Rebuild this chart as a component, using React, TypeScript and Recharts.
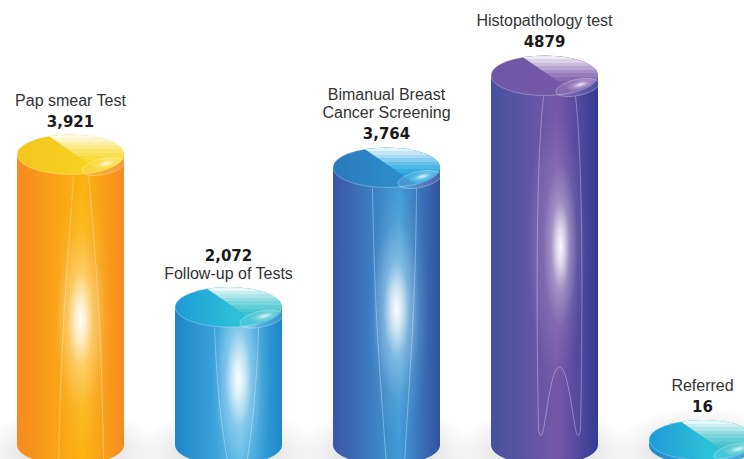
import React from 'react'
import { BarChart, Bar, XAxis, YAxis } from 'recharts'

const categories = ['Pap smear Test', 'Follow-up of Tests', 'Bimanual Breast Cancer Screening', 'Histopathology test', 'Referred']
const values = [3921, 2072, 3764, 4879, 16]
const valueLabels = ['3,921', '2,072', '3,764', '4879', '16']
const nameLines = [['Pap smear Test'], ['Follow-up of Tests'], ['Bimanual Breast', 'Cancer Screening'], ['Histopathology test'], ['Referred']]
const valueOnTop = [false, true, false, false, false]

const bodyEdge = ['#F68A20', '#1E86C8', '#3A55A5', '#46509F', '#1E86C8']
const bodyMid = ['#FBB40F', '#4FB4E5', '#3E9BD6', '#7558A8', '#4FB4E5']
const bodyRight = ['#F68A20', '#1C88C9', '#34509F', '#343A92', '#1C88C9']
const topLeft = ['#F4C51F', '#1E9AD8', '#2C79BC', '#6D57A5', '#1E9AD8']
const topMid = ['#F6D020', '#2CC0D8', '#2E8CCB', '#7459A8', '#2CC0D8']
const topRight = ['#F9D92A', '#3FC2CC', '#27A6DF', '#7E60AE', '#3FC2CC']
const lensKind = ['flare', 'taper', 'taper', 'arch', 'none']

const tableData = categories.map((name, i) => ({ name, value: values[i] }))

const BASE_LIFT = 33
const RY = 20
const bandOpacity = [0.88, 0.72, 0.58, 0.44, 0.3, 0.18, 0.08, 0]

function lensPath(kind: string, cx: number, top: number, base: number) {
  const t = top + 21
  const b = base + 20
  const mid = (t + b) / 2
  if (kind === 'flare') {
    return `M${cx + 3},${t} C${cx - 3},${mid - 50} ${cx - 9},${mid} ${cx - 12},${b} L${cx + 33},${b} C${cx + 31},${mid} ${cx + 26},${mid - 50} ${cx + 18},${t}`
  }
  if (kind === 'taper') {
    return `M${cx - 14},${t} C${cx - 12},${mid - 20} ${cx - 8},${mid + 30} ${cx},${b} L${cx + 18},${b} C${cx + 24},${mid + 30} ${cx + 29},${mid - 20} ${cx + 30},${t}`
  }
  return `M${cx - 1},${t} C${cx - 9},${t + 70} ${cx - 8},${t + 230} ${cx - 6},${base - 15} C${cx - 4},${base - 6} ${cx - 2},${base - 8} ${cx},${base - 22} C${cx + 4},${base - 45} ${cx + 8},${base - 78} ${cx + 15},${base - 78} C${cx + 22},${base - 78} ${cx + 26},${base - 45} ${cx + 30},${base - 22} C${cx + 32},${base - 8} ${cx + 34},${base - 6} ${cx + 36},${base - 15} C${cx + 38},${t + 230} ${cx + 39},${t + 70} ${cx + 31},${t}`
}

function Cylinder(props: any) {
  const { x, y, width, height, index: i } = props
  const rx = width / 2
  const cx = x + rx
  const top = y
  const base = y + height - BASE_LIFT
  const mid = (top + base) / 2 + (i === 0 ? 20 : i === 3 ? -14 : 3)
  const kind = lensKind[i]
  const bodyPath = `M${x},${top} L${x},${base} A${rx},${RY} 0 0 0 ${x + width},${base} L${x + width},${top} Z`
  const lens = lensPath(kind, cx, top, base)
  const lines = nameLines[i].map((t) => ({ t, bold: false }))
  const stack = valueOnTop[i]
    ? [{ t: valueLabels[i], bold: true }, ...lines]
    : [...lines, { t: valueLabels[i], bold: true }]

  // walk up from the cylinder so each line sits on the one below it
  let lineY = top - 28
  const placed = stack
    .map((line, k) => ({ line, k }))
    .reverse()
    .map(({ line, k }) => {
      const at = lineY
      const above = stack[k - 1]
      lineY -= above && (above.bold || line.bold) ? (valueOnTop[i] ? 18 : 21) : 18
      return { line, at }
    })

  return (
    <g>
      <defs>
        <linearGradient id={`body-${i}`} x1="0" x2="1" y1="0" y2="0">
          <stop offset="0" stopColor={bodyEdge[i]} />
          <stop offset="0.62" stopColor={bodyMid[i]} />
          <stop offset="1" stopColor={bodyRight[i]} />
        </linearGradient>
        <linearGradient id={`top-${i}`} x1="0" x2="1" y1="0" y2="0">
          <stop offset="0" stopColor={topLeft[i]} />
          <stop offset="0.55" stopColor={topMid[i]} />
        </linearGradient>
        <linearGradient id={`bands-${i}`} x1="0" x2="0" y1="0" y2="1">
          {bandOpacity.map((o, k) => (
            <React.Fragment key={k}>
              <stop offset={k * 0.09} stopColor="#fff" stopOpacity={o} />
              <stop offset={(k + 1) * 0.09} stopColor="#fff" stopOpacity={o} />
            </React.Fragment>
          ))}
        </linearGradient>
        <radialGradient id={`glow-${i}`}>
          <stop offset="0" stopColor="#fff" stopOpacity="0.98" />
          <stop offset="0.22" stopColor="#fff" stopOpacity="0.72" />
          <stop offset="0.55" stopColor="#fff" stopOpacity="0.22" />
          <stop offset="1" stopColor="#fff" stopOpacity="0" />
        </radialGradient>
        <radialGradient id={`halo-${i}`}>
          <stop offset="0" stopColor="#fff" stopOpacity="0.2" />
          <stop offset="0.6" stopColor="#fff" stopOpacity="0.1" />
          <stop offset="1" stopColor="#fff" stopOpacity="0" />
        </radialGradient>
        <radialGradient id={`shadow-${i}`}>
          <stop offset="0.45" stopColor="#c8c8c8" stopOpacity="0.5" />
          <stop offset="1" stopColor="#c8c8c8" stopOpacity="0" />
        </radialGradient>
        <clipPath id={`faceclip-${i}`}>
          <ellipse cx={cx} cy={top} rx={rx} ry={RY} />
        </clipPath>
        <clipPath id={`lensclip-${i}`}>
          <path d={bodyPath} />
        </clipPath>
      </defs>

      <ellipse cx={cx} cy={base + 10} rx={rx + 38} ry={48} fill={`url(#shadow-${i})`} />
      <path d={bodyPath} fill={`url(#body-${i})`} />

      {kind !== 'none' && (
        <g clipPath={`url(#lensclip-${i})`}>
          <ellipse cx={cx + 12} cy={mid} rx={30} ry={135} fill={`url(#halo-${i})`} />
          <ellipse cx={cx + (kind === 'arch' ? 16 : 10)} cy={mid} rx={kind === 'arch' ? 17 : 24} ry={kind === 'arch' ? 82 : 88} fill={`url(#glow-${i})`} />
          <path d={lens} fill="none" stroke="#fff" strokeOpacity={0.42} strokeWidth={0.8} />
        </g>
      )}

      <ellipse cx={cx} cy={top} rx={rx} ry={RY} fill={`url(#top-${i})`} stroke="#fff" strokeOpacity={0.4} strokeWidth={0.7} />
      <g clipPath={`url(#faceclip-${i})`}>
        <path
          d={`M${cx - 24},${top - 20} L${cx + 34},${top + 20} L${cx + 60},${top + 20} L${cx + 60},${top - 20} Z`}
          fill={topRight[i]}
        />
        <path
          d={`M${cx - 24},${top - 20} L${cx + 34},${top + 20} L${cx + 60},${top + 20} L${cx + 60},${top - 20} Z`}
          fill={`url(#bands-${i})`}
        />
      </g>
      <ellipse cx={cx + 33} cy={top + 12} rx={22} ry={8} transform={`rotate(-12 ${cx + 33} ${top + 12})`} fill="#fff" fillOpacity={0.12} stroke="#fff" strokeOpacity={0.4} strokeWidth={0.7} />
      <ellipse cx={cx + 36} cy={top + 9} rx={15} ry={5} transform={`rotate(-14 ${cx + 36} ${top + 9})`} fill={`url(#glow-${i})`} opacity={0.8} />

      {placed.map(({ line, at }) => (
        <text
          key={line.t}
          x={cx}
          y={at}
          textAnchor="middle"
          fill={line.bold ? '#1a1a1a' : '#333'}
          style={line.bold
            ? { fontFamily: 'DejaVu Sans', fontWeight: 700, fontSize: 15 }
            : { fontFamily: 'Liberation Sans', fontSize: 16 }}
        >
          {line.t}
        </text>
      ))}
    </g>
  )
}

export default function App() {
  return (
    <div style={{ position: 'absolute', left: 0, top: 0, width: 744, height: 459, overflow: 'hidden', background: '#fff' }}>
      <div style={{ position: 'absolute', left: -9, top: 0 }}>
        <BarChart width={790} height={490} data={tableData} margin={{ top: 65.5, right: 0, bottom: 12, left: 0 }}>
          <XAxis dataKey="name" hide />
          <YAxis type="number" domain={[0, 5000]} hide />
          <Bar dataKey="value" barSize={107} minPointSize={38} isAnimationActive={false} shape={Cylinder} />
        </BarChart>
      </div>
    </div>
  )
}
